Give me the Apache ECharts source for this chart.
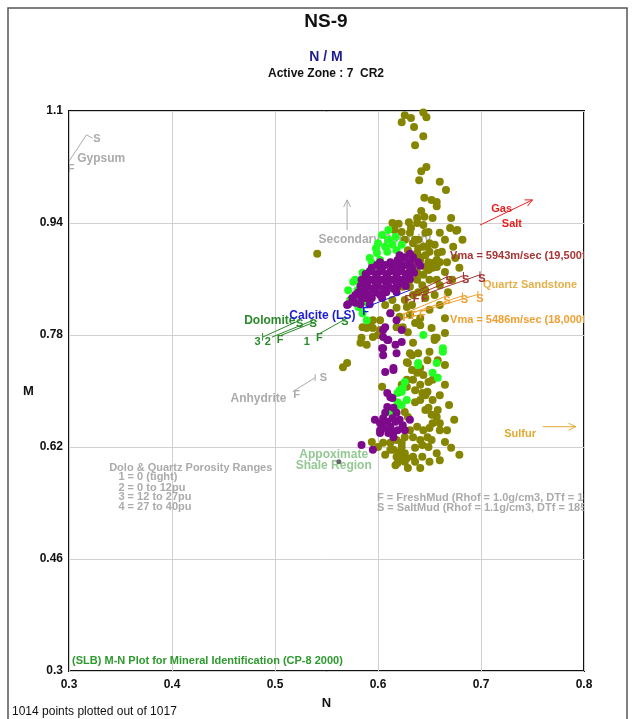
<!DOCTYPE html>
<html>
<head>
<meta charset="utf-8">
<script src="https://cdn.jsdelivr.net/npm/echarts@6/dist/echarts.min.js"></script>
<style>html,body{margin:0;padding:0;background:#fff}#c{width:634px;height:719px}</style>
</head>
<body>
<div id="c"></div>
<script>
// ---------- Data (N, M) ----------
const xTicks = [0.3, 0.4, 0.5, 0.6, 0.7, 0.8];
const yTicks = [0.3, 0.46, 0.62, 0.78, 0.94, 1.1];

const olivePoints = [
[0.626,1.094],[0.632,1.090],[0.644,1.098],[0.647,1.091],[0.623,1.084],[0.635,1.077],[0.644,1.064],[0.636,1.051],[0.647,1.020],[0.642,1.014],
[0.640,1.001],[0.660,0.999],[0.666,0.987],[0.645,0.976],[0.652,0.973],[0.657,0.970],[0.657,0.964],[0.642,0.957],[0.645,0.949],[0.638,0.947],
[0.653,0.947],[0.671,0.947],[0.614,0.940],[0.620,0.939],[0.630,0.941],[0.638,0.940],[0.644,0.937],[0.632,0.933],[0.676,0.929],[0.660,0.926],
[0.541,0.896],
[0.646,0.926],[0.631,0.926],[0.634,0.911],[0.644,0.906],[0.650,0.899],[0.662,0.899],[0.665,0.916],[0.677,0.930],[0.641,0.891],[0.649,0.884],
[0.653,0.876],[0.665,0.870],[0.636,0.877],[0.644,0.866],[0.650,0.859],[0.638,0.859],[0.631,0.849],[0.634,0.837],[0.626,0.830],[0.618,0.819],
[0.612,0.811],[0.621,0.806],[0.602,0.801],[0.592,0.797],[0.585,0.791],[0.595,0.790],[0.618,0.791],
[0.653,0.883],[0.657,0.877],[0.648,0.906],[0.638,0.897],[0.641,0.887],[0.646,0.877],[0.638,0.869],[0.631,0.859],[0.624,0.849],[0.628,0.820],
[0.595,0.801],[0.602,0.787],[0.589,0.790],[0.584,0.776],[0.624,0.791],[0.636,0.797],[0.657,0.776],[0.629,0.784],[0.641,0.804],[0.673,0.906],[0.658,0.897],
[0.626,0.916],[0.639,0.916],[0.655,0.909],[0.629,0.901],[0.646,0.894],[0.657,0.887],[0.631,0.876],[0.643,0.851],[0.639,0.841],[0.646,0.833],[0.633,0.823],
[0.670,0.933],[0.682,0.916],[0.675,0.890],[0.667,0.884],[0.679,0.876],[0.672,0.859],[0.660,0.851],[0.668,0.841],[0.655,0.837],[0.646,0.844],
[0.660,0.823],[0.650,0.816],[0.641,0.794],[0.665,0.804],[0.652,0.790],[0.636,0.916],[0.649,0.927],[0.623,0.927],[0.616,0.930],[0.657,0.859],
[0.649,0.873],[0.639,0.904],[0.650,0.911],[0.660,0.884],[0.633,0.887],[0.614,0.830],[0.607,0.823],[0.631,0.809],
[0.583,0.769],[0.589,0.766],[0.595,0.777],[0.600,0.780],[0.566,0.734],[0.570,0.740],[0.634,0.769],[0.633,0.751],[0.639,0.754],[0.648,0.744],
[0.629,0.740],[0.655,0.773],[0.665,0.783],[0.638,0.726],[0.649,0.713],[0.604,0.706],[0.628,0.716],[0.623,0.709],[0.641,0.709],[0.643,0.697],
[0.648,0.699],[0.636,0.684],[0.641,0.687],[0.646,0.673],[0.649,0.676],[0.626,0.670],[0.629,0.663],[0.652,0.666],[0.657,0.663],[0.660,0.654],
[0.653,0.654],[0.650,0.647],[0.644,0.644],[0.648,0.634],[0.641,0.630],[0.634,0.634],[0.631,0.644],[0.638,0.649],[0.626,0.634],[0.623,0.626],
[0.618,0.630],[0.612,0.626],[0.605,0.626],[0.615,0.616],[0.621,0.613],[0.626,0.611],[0.618,0.606],[0.623,0.604],[0.628,0.604],[0.634,0.606],
[0.643,0.623],[0.636,0.619],[0.657,0.611],[0.643,0.606],[0.619,0.597],[0.629,0.590],[0.641,0.590],[0.612,0.616],[0.594,0.627],[0.623,0.620],
[0.652,0.630],[0.649,0.620],[0.660,0.644],[0.655,0.776],[0.650,0.756],[0.631,0.754],[0.641,0.733],[0.628,0.741],[0.653,0.716],[0.634,0.716],
[0.628,0.706],[0.626,0.599],
[0.669,0.680],[0.674,0.659],[0.667,0.644],[0.665,0.627],[0.671,0.619],[0.679,0.609],[0.660,0.601],[0.650,0.599],[0.636,0.599],[0.617,0.594],
[0.607,0.609],[0.600,0.620],[0.660,0.694],[0.665,0.709],[0.653,0.687],[0.658,0.673],[0.646,0.694],[0.636,0.701],[0.633,0.730],[0.644,0.723],
[0.658,0.744],[0.665,0.737]
];

const limePoints = [
[0.604,0.923],[0.610,0.916],[0.614,0.909],[0.607,0.906],[0.618,0.901],[0.609,0.899],[0.599,0.897],[0.602,0.887],[0.594,0.883],[0.595,0.876],
[0.585,0.869],[0.578,0.859],[0.576,0.856],[0.583,0.854],[0.583,0.849],[0.580,0.844],[0.576,0.833],[0.590,0.826],[0.581,0.820],[0.585,0.811],
[0.589,0.801],[0.617,0.920],[0.623,0.909],[0.592,0.890],[0.571,0.844],[0.573,0.830],[0.598,0.904],[0.610,0.930],[0.600,0.911],
[0.644,0.780],[0.663,0.756],[0.657,0.740],[0.639,0.737],[0.626,0.713],[0.619,0.697],[0.623,0.699],[0.628,0.687],[0.619,0.684],[0.617,0.676],
[0.623,0.680],[0.624,0.704],[0.653,0.726],[0.658,0.719],[0.612,0.670],[0.621,0.701],[0.663,0.761],[0.639,0.740]
];

const purplePoints = [
[0.626,0.891],[0.634,0.891],[0.619,0.887],[0.621,0.894],[0.631,0.896],
[0.602,0.884],[0.612,0.884],[0.621,0.884],[0.631,0.884],[0.639,0.884],
[0.594,0.876],[0.604,0.876],[0.614,0.876],[0.623,0.876],[0.633,0.876],[0.641,0.879],
[0.588,0.867],[0.598,0.867],[0.608,0.867],[0.618,0.867],[0.627,0.867],[0.635,0.869],
[0.584,0.859],[0.594,0.859],[0.604,0.859],[0.614,0.859],[0.623,0.859],[0.631,0.860],
[0.583,0.850],[0.590,0.850],[0.600,0.850],[0.610,0.850],[0.619,0.850],[0.627,0.850],
[0.581,0.841],[0.588,0.841],[0.598,0.841],[0.608,0.841],[0.618,0.841],
[0.575,0.833],[0.584,0.833],[0.594,0.833],[0.604,0.833],
[0.571,0.824],[0.583,0.824],[0.592,0.824],[0.578,0.826],[0.588,0.833],
[0.599,0.880],[0.607,0.880],[0.617,0.880],[0.626,0.880],
[0.589,0.863],[0.599,0.863],[0.609,0.863],[0.618,0.863],[0.628,0.863],
[0.585,0.846],[0.595,0.846],[0.605,0.846],[0.615,0.846],
[0.578,0.837],[0.591,0.837],[0.602,0.837],
[0.592,0.871],[0.602,0.871],[0.612,0.871],[0.621,0.871],[0.631,0.871],
[0.588,0.854],[0.598,0.854],[0.608,0.854],[0.618,0.854],[0.625,0.854],
[0.570,0.823],[0.612,0.811],[0.618,0.801],[0.605,0.787],[0.610,0.773],[0.604,0.761],[0.607,0.791],[0.623,0.787],
[0.605,0.777],[0.609,0.773],[0.617,0.766],[0.623,0.770],[0.605,0.761],[0.605,0.751],[0.618,0.754],[0.607,0.727],[0.615,0.730],[0.615,0.733],
[0.609,0.697],[0.614,0.690],[0.612,0.691],[0.609,0.677],[0.615,0.676],[0.607,0.669],[0.618,0.669],
[0.597,0.659],[0.602,0.654],[0.605,0.661],[0.609,0.656],[0.614,0.661],[0.617,0.656],[0.621,0.659],[0.624,0.651],[0.612,0.649],[0.605,0.647],
[0.615,0.641],[0.619,0.644],[0.610,0.640],[0.602,0.640],[0.631,0.659],[0.626,0.644],[0.615,0.634],[0.602,0.644],[0.584,0.623],[0.595,0.616]
];

const shalePoint = [[0.562, 0.599]];

// ---------- Annotations (text, N, M, colour, align, size) ----------
const FONT = "'Liberation Sans', Arial, sans-serif";
const GRAY = '#ababab';
const annoUnderTexts = [
  ['S', 0.327, 1.060, GRAY, 'center', 11],
  ['F', 0.302, 1.017, GRAY, 'center', 11],
  ['Gypsum', 0.308, 1.032, GRAY, 'left', 12],
  ['Secondary Porosity', 0.597, 0.916, GRAY, 'center', 12],
  ['Anhydrite', 0.484, 0.689, GRAY, 'center', 12],
  ['F', 0.521, 0.694, GRAY, 'center', 11],
  ['S', 0.547, 0.719, GRAY, 'center', 11],
  ['Dolo & Quartz Porosity Ranges', 0.339, 0.590, GRAY, 'left', 11],
  ['1 = 0 (tight)', 0.348, 0.577, GRAY, 'left', 11],
  ['2 = 0 to 12pu', 0.348, 0.562, GRAY, 'left', 11],
  ['3 = 12 to 27pu', 0.348, 0.548, GRAY, 'left', 11],
  ['4 = 27 to 40pu', 0.348, 0.534, GRAY, 'left', 11],
  ['F = FreshMud (Rhof = 1.0g/cm3, DTf = 189us/ft)', 0.599, 0.547, GRAY, 'left', 11],
  ['S = SaltMud (Rhof = 1.1g/cm3, DTf = 185us/ft)', 0.599, 0.533, GRAY, 'left', 11],
  ['Appoximate', 0.557, 0.609, '#94c894', 'center', 12],
  ['Shale Region', 0.557, 0.594, '#94c894', 'center', 12],
  ['Sulfur', 0.738, 0.638, '#e0aa30', 'center', 11],
  ['Gas', 0.720, 0.960, '#e82020', 'center', 11],
  ['Salt', 0.730, 0.939, '#e82020', 'center', 11],
  ['(SLB) M-N Plot for Mineral Identification (CP-8 2000)', 0.303, 0.314, '#2e9a2e', 'left', 11],
  ['Dolomite', 0.495, 0.801, '#2a8a2a', 'center', 12],
  ['3', 0.483, 0.770, '#2a8a2a', 'center', 11],
  ['2', 0.493, 0.770, '#2a8a2a', 'center', 11],
  ['F', 0.505, 0.773, '#2a8a2a', 'center', 11],
  ['1', 0.531, 0.770, '#2a8a2a', 'center', 11],
  ['F', 0.543, 0.776, '#2a8a2a', 'center', 11],
  ['S', 0.524, 0.796, '#2a8a2a', 'center', 11],
  ['S', 0.537, 0.796, '#2a8a2a', 'center', 11],
  ['S', 0.568, 0.799, '#2a8a2a', 'center', 11]
];
// lines: n1, m1, n2, m2, colour, arrow
const annoUnderLines = [
  [0.299, 1.026, 0.317, 1.066, GRAY, 0],
  [0.317, 1.066, 0.323, 1.061, GRAY, 0],
  [0.570, 0.930, 0.570, 0.973, GRAY, 1],
  [0.517, 0.699, 0.539, 0.719, GRAY, 0],
  [0.539, 0.724, 0.539, 0.714, GRAY, 0],
  [0.699, 0.937, 0.750, 0.973, '#e82020', 1],
  [0.760, 0.649, 0.792, 0.649, '#e0aa30', 1],
  [0.488, 0.777, 0.524, 0.801, '#2a8a2a', 0],
  [0.497, 0.777, 0.537, 0.801, '#2a8a2a', 0],
  [0.505, 0.779, 0.541, 0.800, '#2a8a2a', 0],
  [0.542, 0.781, 0.570, 0.804, '#2a8a2a', 0],
  [0.488, 0.783, 0.488, 0.772, '#2a8a2a', 0]
];
const RED = '#a83434', ORG = '#f0a030';
const annoOverTexts = [
  ['Vma = 5943m/sec (19,500ft/sec)', 0.670, 0.893, RED, 'left', 11],
  ['Quartz Sandstone', 0.702, 0.851, '#e6b04a', 'left', 11],
  ['Vma = 5486m/sec (18,000ft/sec)', 0.670, 0.801, ORG, 'left', 11],
  ['F', 0.629, 0.830, RED, 'center', 11], ['F', 0.637, 0.831, RED, 'center', 11], ['F', 0.645, 0.832, RED, 'center', 11],
  ['S', 0.669, 0.857, RED, 'center', 11], ['S', 0.685, 0.859, RED, 'center', 11], ['S', 0.701, 0.860, RED, 'center', 11],
  ['F', 0.627, 0.805, ORG, 'center', 11], ['F', 0.635, 0.807, ORG, 'center', 11], ['F', 0.643, 0.809, ORG, 'center', 11],
  ['S', 0.667, 0.829, ORG, 'center', 11], ['S', 0.684, 0.830, ORG, 'center', 11], ['S', 0.699, 0.832, ORG, 'center', 11],
  ['Calcite (LS)', 0.546, 0.808, '#1a1ad8', 'center', 12],
  ['F', 0.588, 0.813, '#1a1ad8', 'center', 11]
];
const annoOverLines = [
  [0.629, 0.836, 0.667, 0.863, RED, 0], [0.637, 0.837, 0.683, 0.865, RED, 0], [0.645, 0.838, 0.699, 0.866, RED, 0],
  [0.667, 0.868, 0.667, 0.858, RED, 0], [0.683, 0.870, 0.683, 0.860, RED, 0], [0.699, 0.871, 0.699, 0.861, RED, 0],
  [0.626, 0.811, 0.665, 0.835, ORG, 0], [0.634, 0.812, 0.682, 0.836, ORG, 0], [0.642, 0.814, 0.697, 0.838, ORG, 0],
  [0.665, 0.840, 0.665, 0.830, ORG, 0], [0.682, 0.841, 0.682, 0.831, ORG, 0], [0.697, 0.843, 0.697, 0.833, ORG, 0],
  [0.585, 0.818, 0.631, 0.844, '#1a1ad8', 0]
];

function annoRenderer(texts, lines) {
  return function (params, api) {
    const children = [];
    lines.forEach(function (l) {
      const p1 = api.coord([l[0], l[1]]), p2 = api.coord([l[2], l[3]]);
      children.push({type: 'line', shape: {x1: p1[0], y1: p1[1], x2: p2[0], y2: p2[1]},
        style: {stroke: l[4], lineWidth: 1}});
      if (l[5]) {
        const ang = Math.atan2(p2[1] - p1[1], p2[0] - p1[0]), a = 8;
        children.push({type: 'polyline', shape: {points: [
          [p2[0] - a * Math.cos(ang - 0.45), p2[1] - a * Math.sin(ang - 0.45)], [p2[0], p2[1]],
          [p2[0] - a * Math.cos(ang + 0.45), p2[1] - a * Math.sin(ang + 0.45)]]},
          style: {stroke: l[4], fill: null, lineWidth: 1}});
      }
    });
    texts.forEach(function (t) {
      const p = api.coord([t[1], t[2]]);
      children.push({type: 'text', x: p[0], y: p[1], style: {text: t[0], fill: t[3], align: t[4],
        verticalAlign: 'middle', font: 'bold ' + t[5] + 'px ' + FONT}});
    });
    return {type: 'group', children: children};
  };
}

const toData = pts => pts.map(p => [p[0], p[1]]);
const chart = echarts.init(document.getElementById('c'), null, {renderer: 'canvas'});
const labelFont = {fontFamily: FONT, fontWeight: 'bold', fontSize: 12, color: '#111'};

chart.setOption({
  animation: false,
  backgroundColor: '#fff',
  grid: {left: 69, right: 50, top: 111, bottom: 48, show: true, borderColor: '#111', borderWidth: 2},
  graphic: [
    {type: 'rect', shape: {x: 8, y: 8, width: 619, height: 740}, style: {fill: null, stroke: '#555', lineWidth: 1.5}, z: -10},
    {type: 'text', x: 326, y: 22, style: {text: 'NS-9', align: 'center', verticalAlign: 'middle', fill: '#111', font: "bold 19px 'Liberation Sans Narrow', 'Liberation Sans', Arial"}},
    {type: 'text', x: 326, y: 57, style: {text: 'N / M', align: 'center', verticalAlign: 'middle', fill: '#1c1c8c', font: "bold 14px 'Liberation Sans Narrow', 'Liberation Sans', Arial"}},
    {type: 'text', x: 326, y: 74, style: {text: 'Active Zone : 7  CR2', align: 'center', verticalAlign: 'middle', fill: '#111', font: "bold 12px 'Liberation Sans Narrow', 'Liberation Sans', Arial"}},
    {type: 'text', x: 12, y: 712, style: {text: '1014 points plotted out of 1017', align: 'left', verticalAlign: 'middle', fill: '#111', font: "12px 'Liberation Sans Narrow', 'Liberation Sans', Arial"}}
  ],
  xAxis: {
    type: 'value', min: xTicks[0], max: xTicks[xTicks.length - 1], interval: 0.1,
    name: 'N', nameLocation: 'middle', nameGap: 26,
    nameTextStyle: {fontFamily: FONT, fontWeight: 'bold', fontSize: 13, color: '#111'},
    axisLine: {show: false}, axisTick: {show: false},
    axisLabel: Object.assign({margin: 8, formatter: v => String(+v.toFixed(2))}, labelFont),
    splitLine: {show: true, lineStyle: {color: '#d0d0d0', width: 1}}
  },
  yAxis: {
    type: 'value', min: yTicks[0], max: yTicks[yTicks.length - 1], interval: 0.16,
    name: 'M', nameLocation: 'middle', nameGap: 31, nameRotate: 0,
    nameTextStyle: {fontFamily: FONT, fontWeight: 'bold', fontSize: 13, color: '#111'},
    axisLine: {show: false}, axisTick: {show: false},
    axisLabel: Object.assign({margin: 6, formatter: v => String(+v.toFixed(2))}, labelFont),
    splitLine: {show: true, lineStyle: {color: '#d0d0d0', width: 1}}
  },
  series: [
    {type: 'custom', name: 'annoUnder', z: 1, clip: true, data: [[0.5, 0.7]], renderItem: annoRenderer(annoUnderTexts, annoUnderLines), silent: true},
    {type: 'scatter', name: 'olive', z: 2, data: toData(olivePoints), symbolSize: 8, itemStyle: {color: '#858500', opacity: 1}},
    {type: 'scatter', name: 'lime', z: 3, data: toData(limePoints), symbolSize: 8, itemStyle: {color: '#22ff22', opacity: 1}},
    {type: 'scatter', name: 'purple', z: 4, data: toData(purplePoints), symbolSize: 8, itemStyle: {color: '#7d0a8a', opacity: 1}},
    {type: 'scatter', name: 'shale', z: 4, data: toData(shalePoint), symbolSize: 5, itemStyle: {color: '#666', opacity: 1}},
    {type: 'custom', name: 'annoOver', z: 5, clip: true, data: [[0.5, 0.7]], renderItem: annoRenderer(annoOverTexts, annoOverLines), silent: true}
  ]
});
</script>
</body>
</html>
